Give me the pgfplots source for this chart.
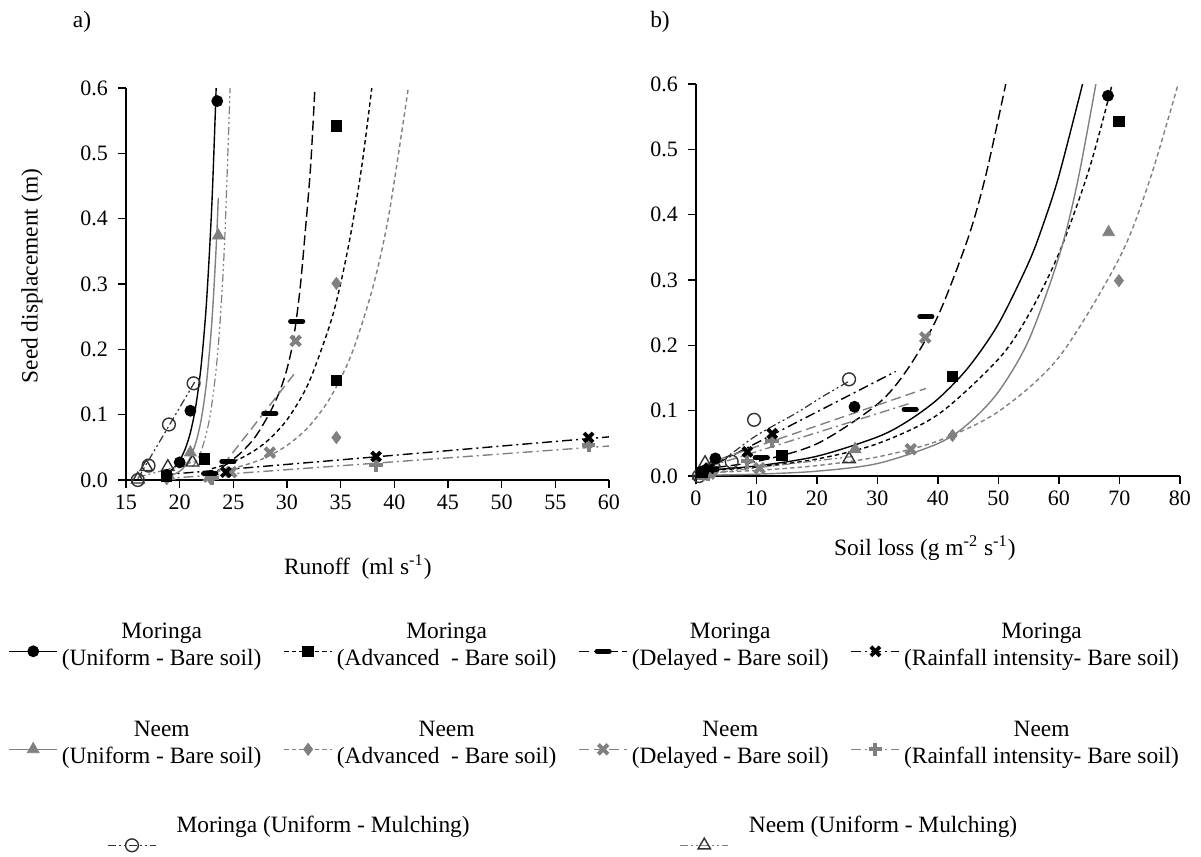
\documentclass[border=0pt]{standalone}
\usepackage{fontspec}
\setmainfont{Liberation Serif}
\usepackage{pgfplots}
\pgfplotsset{compat=1.18}
\definecolor{ng}{gray}{0.5}

\newcommand{\lgent}[2]{\begin{tabular}{@{}c@{}}#1\\#2\end{tabular}}

\pgfplotsset{
 MU/.style={black, line width=0.7pt, solid, mark=*, mark size=2.7pt, mark options={solid, fill=black, line width=0.5pt}},
 MA/.style={black, line width=0.7pt, dash pattern=on 2.2pt off 1.6pt, mark=square*, mark size=2.6pt, mark options={solid, fill=black, line width=0.5pt}},
 MD/.style={black, line width=0.7pt, dash pattern=on 5pt off 2.2pt, mark=-, mark size=3pt, mark options={solid, line width=2.6pt, line cap=round}},
 MR/.style={black, line width=0.7pt, dash pattern=on 5pt off 2pt on 1pt off 2pt, mark=x, mark size=3.2pt, mark options={solid, line width=1.9pt}},
 NU/.style={ng, line width=0.7pt, solid, mark=triangle*, mark size=3.4pt, mark options={solid, fill=ng, line width=0.4pt}},
 NA/.style={ng, line width=0.7pt, dash pattern=on 2.2pt off 1.6pt, mark=diamond*, mark size=3pt, mark options={solid, fill=ng, line width=0.4pt}},
 ND/.style={ng, line width=0.7pt, dash pattern=on 5pt off 2.5pt, mark=x, mark size=3.4pt, mark options={solid, line width=2pt}},
 NR/.style={ng, line width=0.7pt, dash pattern=on 5pt off 2pt on 1pt off 2pt, mark=+, mark size=3.4pt, mark options={solid, line width=2pt}},
 MM/.style={black!80, line width=0.6pt, dash pattern=on 4pt off 1.5pt on 1pt off 1.5pt on 1pt off 1.5pt, mark=o, mark size=3.2pt, mark options={solid, fill=white, line width=0.7pt}},
 NM/.style={ng, line width=0.6pt, dash pattern=on 4pt off 1.5pt on 1pt off 1.5pt on 1pt off 1.5pt, mark=triangle, mark size=3.6pt, mark options={solid, fill=white, draw=black!80, line width=0.7pt}},
 myaxis/.style={
  scale only axis, height=196pt,
  axis lines*=left, axis line style={-, line width=0.6pt},
  tick align=outside, major tick length=4pt, every tick/.style={black, line width=0.6pt},
  ymin=0, ymax=0.6, ytick={0,0.1,0.2,0.3,0.4,0.5,0.6},
  yticklabel style={/pgf/number format/fixed, /pgf/number format/fixed zerofill, /pgf/number format/precision=1, xshift=-1.5pt},
  /pgf/number format/assume math mode=true,
  tick label style={font=\fontsize{11}{13}\selectfont},
  label style={font=\fontsize{11.7}{14}\selectfont},
  clip mode=individual,
  legend image code/.code={\draw[mark repeat=2,mark phase=2,##1,yshift=-6.75pt] plot coordinates {(0pt,0pt) (12pt,0pt) (24pt,0pt)};},
  legend cell align=left,
 },
 rowlegend/.style={
  legend columns=4,
  legend style={draw=none, fill=none, inner sep=0pt, font=\fontsize{11.7}{13.5}\selectfont,
    at={(axis description cs:-0.244,#1)}, anchor=north west,
    /tikz/every even column/.append style={column sep=9pt}},
 },
}

\begin{document}
\begin{tikzpicture}
\useasboundingbox (0,0) rectangle (600.5pt,-428.5pt);
\node[font=\fontsize{11.7}{14}\selectfont] at (41pt,-11pt) {a)};
\node[font=\fontsize{11.7}{14}\selectfont] at (330pt,-11pt) {b)};

% ---------------- a) Runoff ----------------
\begin{axis}[myaxis,
  at={(63pt,-240pt)}, anchor=south west, width=241.5pt,
  xmin=15, xmax=60, xtick={15,20,...,60},
  xlabel={Runoff\ \ (ml s\textsuperscript{-1})},
  xlabel style={at={(axis description cs:0.480,-0.222)}, anchor=center},
  ylabel={Seed displacement (m)},
  ylabel style={at={(axis description cs:-0.1946,0.52)}, anchor=center},
  rowlegend=-0.3454,
]
\addlegendimage{MU}\addlegendentry{\lgent{Moringa}{(Uniform - Bare soil)}}
\addlegendimage{MA}\addlegendentry{\lgent{Moringa}{(Advanced\ \ - Bare soil)}}
\addlegendimage{MD}\addlegendentry{\lgent{Moringa}{(Delayed - Bare soil)}}
\addlegendimage{MR}\addlegendentry{\lgent{Moringa}{(Rainfall intensity- Bare soil)}}

% trend lines
\addplot[MU, no markers, smooth, forget plot] coordinates {(19.0,0.0125) (19.5,0.0194) (20.0,0.0301) (20.5,0.0468) (21.0,0.0726) (21.5,0.1127) (22.0,0.175) (22.5,0.272) (23.0,0.422) (23.4,0.600)};
\addplot[MA, no markers, smooth, forget plot] coordinates {(23.0,0.0175) (24,0.0222) (26,0.0357) (28,0.0574) (30,0.0922) (32,0.148) (34,0.238) (35,0.301) (36,0.382) (37,0.484) (37.9,0.600)};
\addplot[MD, no markers, smooth, forget plot] coordinates {(24.0,0.020) (25.6,0.040) (27.0,0.065) (28.3,0.100) (29.3,0.135) (30.0,0.170) (30.6,0.215) (31.2,0.290) (31.7,0.380) (32.2,0.480) (32.6,0.600)};
\addplot[MR, no markers, smooth, forget plot] coordinates {(18.5,0.008) (29.35,0.023) (38.3,0.0355) (50,0.052) (60,0.066)};
\addplot[NU, no markers, smooth, forget plot] coordinates {(19.0,0.0051) (20.0,0.0133) (20.5,0.0216) (21.0,0.035) (21.5,0.0567) (22.0,0.0919) (22.5,0.149) (23.0,0.242) (23.4,0.356) (23.6,0.432)};
\addplot[NA, no markers, smooth, forget plot] coordinates {(22,0.0095) (24,0.0146) (26,0.0224) (28,0.0344) (30,0.0529) (32,0.0812) (34,0.125) (36,0.192) (38,0.295) (39.5,0.407) (41.3,0.600)};
\addplot[ND, no markers, smooth, forget plot] coordinates {(23.2,0.005) (27.0,0.085) (30.8,0.165)};
\addplot[NR, no markers, forget plot] coordinates {(18.5,0.002) (29.35,0.015) (60,0.052)};
\addplot[MM, no markers, forget plot] coordinates {(16.1,0.002) (21.4,0.150)};
\addplot[NM, no markers, forget plot] coordinates {(16.1,0.004) (21.4,0.028)};
\addplot[NM, no markers, smooth, forget plot] coordinates {(21.2,0.020) (22.0,0.0437) (22.8,0.095) (23.4,0.170) (23.8,0.251) (24.2,0.369) (24.7,0.600)};

% data points
\addplot[NM, only marks, forget plot] coordinates {(16.1,0.001) (16.9,0.020) (18.9,0.020) (21.2,0.027)};
\addplot[MM, only marks, forget plot] coordinates {(16.1,0.000) (17.1,0.022) (19.0,0.085) (21.3,0.148)};
\addplot[NR, only marks, forget plot] coordinates {(23.0,0.003) (38.3,0.023) (58.1,0.054)};
\addplot[ND, only marks, forget plot] coordinates {(22.7,0.005) (24.8,0.012) (28.4,0.042) (30.8,0.213)};
\addplot[NA, only marks, forget plot] coordinates {(18.8,0.002) (22.8,0.004) (34.6,0.065) (34.6,0.301)};
\addplot[NU, only marks, forget plot] coordinates {(19.0,0.006) (21.0,0.042) (23.6,0.374)};
\addplot[MR, only marks, forget plot] coordinates {(24.3,0.012) (38.3,0.036) (58.1,0.065)};
\addplot[MD, only marks, forget plot] coordinates {(22.8,0.010) (24.5,0.028) (28.4,0.102) (30.9,0.243)};
\addplot[MA, only marks, forget plot] coordinates {(18.8,0.005) (22.3,0.032) (34.6,0.152) (34.6,0.542)};
\addplot[MU, only marks, forget plot] coordinates {(18.8,0.008) (20.0,0.027) (21.0,0.106) (23.5,0.580)};
\end{axis}

% ---------------- second legend row (hidden axis on the frame of a) ----------------
\begin{axis}[myaxis, hide axis,
  at={(63pt,-240pt)}, anchor=south west, width=241.5pt,
  xmin=15, xmax=60,
  rowlegend=-0.5954,
]
\addlegendimage{NU}\addlegendentry{\lgent{Neem}{(Uniform - Bare soil)}}
\addlegendimage{NA}\addlegendentry{\lgent{Neem}{(Advanced\ \ - Bare soil)}}
\addlegendimage{ND}\addlegendentry{\lgent{Neem}{(Delayed - Bare soil)}}
\addlegendimage{NR}\addlegendentry{\lgent{Neem}{(Rainfall intensity- Bare soil)}}
\end{axis}

% ---------------- b) Soil loss ----------------
\begin{axis}[myaxis,
  at={(348pt,-238pt)}, anchor=south west, width=242pt,
  xmin=0, xmax=80, xtick={0,10,...,80},
  xlabel={Soil loss (g m\textsuperscript{-2} s\textsuperscript{-1})},
  xlabel style={at={(axis description cs:0.473,-0.184)}, anchor=center},
  legend columns=2,
  legend image code/.code={\draw[mark repeat=2,mark phase=2,#1,yshift=-10pt] plot coordinates {(0pt,0pt) (12pt,0pt) (24pt,0pt)};},
  legend style={draw=none, fill=none, inner sep=0pt, font=\fontsize{11.7}{13.5}\selectfont,
    at={(axis description cs:-1.217,-0.855)}, anchor=north west,
    /tikz/every even column/.append style={column sep=103pt}},
]
\addlegendimage{MM}\addlegendentry{\hspace*{8pt}Moringa (Uniform - Mulching)}
\addlegendimage{NM}\addlegendentry{\hspace*{8pt}Neem (Uniform - Mulching)}

% trend lines
\addplot[MU, no markers, smooth, forget plot] coordinates {(0.5,0.0081) (10,0.0154) (20,0.0303) (30,0.0598) (35,0.084) (40,0.118) (45,0.166) (50,0.233) (55,0.327) (57.5,0.388) (60,0.460) (63.9,0.600)};
\addplot[MA, no markers, smooth, forget plot] coordinates {(0.5,0.0074) (10,0.0137) (20,0.0260) (30,0.0495) (40,0.0941) (50,0.179) (55,0.247) (60,0.341) (65,0.470) (68.8,0.600)};
\addplot[MD, no markers, smooth, forget plot] coordinates {(1,0.0108) (10,0.0222) (20,0.0494) (30,0.110) (35,0.164) (40,0.245) (45,0.365) (48,0.464) (51.2,0.600)};
\addplot[MR, no markers, forget plot] coordinates {(0.5,0.005) (12.6,0.063) (33,0.160)};
\addplot[NU, no markers, smooth, forget plot] coordinates {(0.5,0.0011) (10,0.0028) (20,0.0074) (30,0.0191) (40,0.0497) (45,0.0801) (50,0.129) (55,0.208) (60,0.336) (63,0.447) (66.1,0.600)};
\addplot[NA, no markers, smooth, forget plot] coordinates {(0.5,0.0048) (10,0.0086) (20,0.0159) (30,0.0292) (40,0.0537) (50,0.0988) (60,0.182) (70,0.334) (75,0.453) (79.7,0.600)};
\addplot[ND, no markers, forget plot] coordinates {(1.8,0.019) (38.0,0.134)};
\addplot[NR, no markers, forget plot] coordinates {(2.0,0.014) (35.3,0.111)};
\addplot[MM, no markers, smooth, forget plot] coordinates {(0.5,0.001) (5.5,0.032) (10,0.062) (16.5,0.096) (21,0.122) (25.3,0.145)};
\addplot[NM, no markers, forget plot] coordinates {(0.5,0.002) (26,0.030)};

% data points
\addplot[NM, only marks, forget plot] coordinates {(0.5,0.001) (1.5,0.020) (3.0,0.020) (25.3,0.026)};
\addplot[MM, only marks, forget plot] coordinates {(0.5,0.000) (5.9,0.022) (9.6,0.086) (25.3,0.148)};
\addplot[NR, only marks, forget plot] coordinates {(2.0,0.003) (8.5,0.023) (12.6,0.054)};
\addplot[ND, only marks, forget plot] coordinates {(1.8,0.005) (10.5,0.012) (35.5,0.041) (37.9,0.212)};
\addplot[NA, only marks, forget plot] coordinates {(1.2,0.002) (2.8,0.004) (42.4,0.062) (69.9,0.299)};
\addplot[NU, only marks, forget plot] coordinates {(1.5,0.006) (26.3,0.041) (68.2,0.373)};
\addplot[MR, only marks, forget plot] coordinates {(2.2,0.012) (8.5,0.037) (12.6,0.065)};
\addplot[MD, only marks, forget plot] coordinates {(2.5,0.010) (10.8,0.028) (35.4,0.102) (38.0,0.244)};
\addplot[MA, only marks, forget plot] coordinates {(1.0,0.005) (14.2,0.031) (42.4,0.152) (69.9,0.543)};
\addplot[MU, only marks, forget plot] coordinates {(1.3,0.008) (3.2,0.027) (26.2,0.106) (68.1,0.582)};
\end{axis}
\end{tikzpicture}
\end{document}
